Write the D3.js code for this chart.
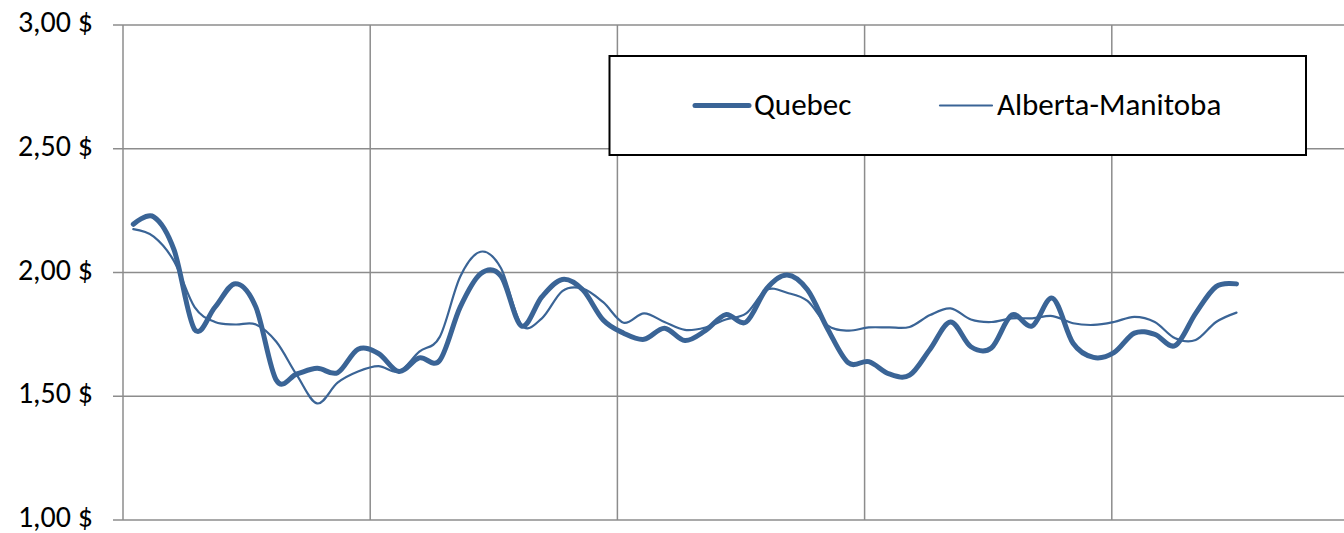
<!DOCTYPE html>
<html>
<head>
<meta charset="utf-8">
<script src="https://cdn.jsdelivr.net/npm/d3@7"></script>
<style>
  html, body { margin: 0; padding: 0; background: #fff; }
  svg { display: block; }
  text { font-family: Carlito, Calibri, Lato, sans-serif; fill: #000; }
</style>
</head>
<body>
<svg id="chart" width="1344" height="533"></svg>
<script>
// monthly periods, one vertical gridline every 12 months
var periods = d3.range(1, 56);
var yearTicks = [0, 1, 2, 3, 4, 5];
var priceTicks = [1.0, 1.5, 2.0, 2.5, 3.0];

var quebec = [
	2.195, 2.225, 2.09, 1.77, 1.86, 1.955, 1.86, 1.565, 1.59, 1.613,
	1.595, 1.69, 1.673, 1.60, 1.655, 1.645, 1.86, 1.995, 1.985, 1.784,
	1.902, 1.972, 1.93, 1.808, 1.755, 1.73, 1.775, 1.725, 1.765, 1.83,
	1.80, 1.935, 1.99, 1.93, 1.77, 1.635, 1.64, 1.59, 1.585, 1.69,
	1.80, 1.70, 1.695, 1.828, 1.784, 1.896, 1.714, 1.657, 1.676, 1.755,
	1.75, 1.705, 1.835, 1.943, 1.954
];

var albertaManitoba = [
	2.175, 2.145, 2.045, 1.86, 1.80, 1.79, 1.79, 1.72, 1.586, 1.471,
	1.555, 1.60, 1.622, 1.60, 1.68, 1.74, 1.983, 2.084, 2.017, 1.788,
	1.815, 1.925, 1.935, 1.88, 1.797, 1.835, 1.80, 1.768, 1.778, 1.81,
	1.835, 1.93, 1.918, 1.885, 1.785, 1.765, 1.778, 1.778, 1.78, 1.828,
	1.855, 1.81, 1.80, 1.815, 1.815, 1.824, 1.795, 1.788, 1.80, 1.821,
	1.80, 1.734, 1.727, 1.80, 1.838
];

var series = [
	{name: "Quebec", values: quebec, width: 5},
	{name: "Alberta-Manitoba", values: albertaManitoba, width: 2.2}
];

var lineColor = "#3a6496";
var gridColor = "#8c8c8c";

var svg = d3.select("#chart");
var svgWidth = +svg.attr("width");

var plot = {l: 123, t: 25, b: 520};

var y = d3.scaleLinear()
	.domain([1, 3])
	.range([plot.b, plot.t]);

// year gridlines
var xYear = d3.scaleLinear()
	.domain([0, 5])
	.range([plot.l, 1359]);

// data points sit between the ticks
var x = d3.scalePoint()
	.domain(periods)
	.range([133.3, 1236.5]);

// horizontal gridlines (with the outside tick marks)
svg.append("g")
	.selectAll("line")
	.data(priceTicks)
	.enter()
	.append("line")
	.attr("x1", plot.l - 10)
	.attr("x2", svgWidth)
	.attr("y1", function(d) { return y(d); })
	.attr("y2", function(d) { return y(d); })
	.attr("stroke", gridColor)
	.attr("stroke-width", 1.5);

// vertical gridlines
svg.append("g")
	.selectAll("line")
	.data(yearTicks)
	.enter()
	.append("line")
	.attr("x1", function(d) { return xYear(d); })
	.attr("x2", function(d) { return xYear(d); })
	.attr("y1", plot.t)
	.attr("y2", plot.b)
	.attr("stroke", gridColor)
	.attr("stroke-width", 1.5);

// y labels
svg.append("g")
	.selectAll("text")
	.data(priceTicks)
	.enter()
	.append("text")
	.attr("x", 93)
	.attr("y", function(d) { return y(d) + 7; })
	.attr("text-anchor", "end")
	.style("font-size", "30px")
	.text(function(d) { return d3.format(".2f")(d).replace(".", ",") + " $"; });

var line = d3.line()
	.x(function(d, i) { return x(periods[i]); })
	.y(function(d) { return y(d); })
	.curve(d3.curveCardinal.tension(0));

svg.append("g")
	.selectAll("path")
	.data(series)
	.enter()
	.append("path")
	.attr("d", function(d) { return line(d.values); })
	.attr("fill", "none")
	.attr("stroke", lineColor)
	.attr("stroke-width", function(d) { return d.width; })
	.attr("stroke-linecap", "round")
	.attr("stroke-linejoin", "round");

// legend
var legend = svg.append("g");

legend.append("rect")
	.attr("x", 609.5)
	.attr("y", 56)
	.attr("width", 696.5)
	.attr("height", 99)
	.attr("fill", "#fff")
	.attr("stroke", "#000")
	.attr("stroke-width", 2);

var legendItems = [
	{x1: 695, x2: 749, tx: 754},
	{x1: 940, x2: 992, tx: 997}
];

series.forEach(function(s, i) {
	var it = legendItems[i];
	legend.append("line")
		.attr("x1", it.x1)
		.attr("x2", it.x2)
		.attr("y1", 105.5)
		.attr("y2", 105.5)
		.attr("stroke", lineColor)
		.attr("stroke-width", s.width)
		.attr("stroke-linecap", "round");
	legend.append("text")
		.attr("x", it.tx)
		.attr("y", 115)
		.style("font-size", "31px")
		.text(s.name);
});
</script>
</body>
</html>
